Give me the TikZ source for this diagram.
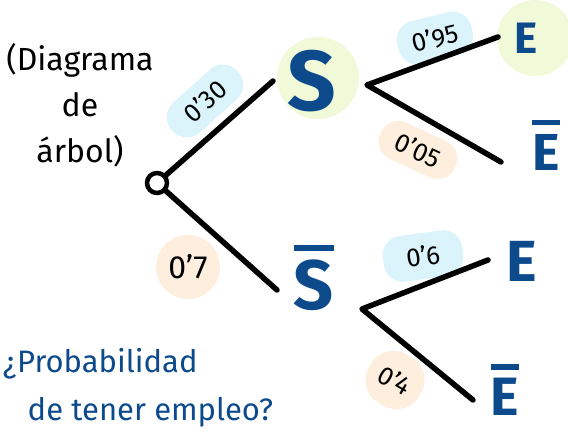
\documentclass[tikz,border=0pt]{standalone}
\usepackage{fontspec}
\setmainfont{Fira Sans}
\usepackage{tikz}
\usetikzlibrary{calc, backgrounds}

\definecolor{ink}{RGB}{12,74,140}
\definecolor{lime}{RGB}{240,249,216}
\definecolor{sky}{RGB}{219,244,251}
\definecolor{peach}{RGB}{253,238,221}

% letter with a bar on top (complement)
\newcommand{\nega}[1]{\vbox{\hrule height 5.5pt\kern 9pt\hbox{#1}}}

\begin{document}
\begin{tikzpicture}[
    x=1pt, y=-1pt,
    branch/.style={line width=5.5pt, line cap=round, line join=round},
    event/.style={text=ink, inner sep=0pt, font=\bfseries\fontsize{#1}{#1}\selectfont},
    event/.default=55,
    prob/.style={rounded corners=19pt, inner sep=0pt, minimum width=82pt,
      minimum height=40pt, font=\fontsize{26}{26}\selectfont},
    note/.style={align=center, font=\fontsize{32}{46}\selectfont}
]
\useasboundingbox (0,0) rectangle (568,441);

% tree
\node[draw, circle, line width=4.5pt, minimum size=20pt, inner sep=0pt] (root) at (157,183) {};
\node[event=85] (S) at (312,81) {S};
\node[event=70] (Sn) at (314,278) {\nega{S}};
\node[event=44] (E1) at (526,38) {E};
\node[event=52] (E1n) at (546,145) {\nega{E}};
\node[event=58] (E2) at (522,261) {E};
\node[event=54] (E2n) at (505,390) {\nega{E}};

\coordinate (Sfork) at (367,85);
\coordinate (Snfork) at (362,309);
\coordinate (toS) at (273,81);
\coordinate (toSn) at (277,290);
\coordinate (toE1) at (498,37);
\coordinate (toE1n) at (501,162);
\coordinate (toE2) at (488,260);
\coordinate (toE2n) at (473,400);

% probabilities
\node[prob, fill=sky, rotate=42, minimum width=88pt] (p30) at (205,101) {0'30};
\node[prob, fill=sky, rotate=14, minimum width=76pt, minimum height=44pt] (p95) at (435,38) {0'95};
\node[prob, fill=peach, rotate=-25] (p05) at (418,150) {0'05};
\node[prob, fill=peach, circle, minimum size=64pt, font=\fontsize{32}{32}\selectfont] (p7) at (188,267) {0'7};
\node[prob, fill=sky, rotate=8, minimum width=80pt, minimum height=46pt] (p6) at (423,256) {0'6};
\node[prob, fill=peach, rotate=-30, minimum width=58pt, minimum height=56pt, rounded corners=26pt] (p4) at (395,380) {0'4};

\draw[branch] (root) -- (toS);
\draw[branch] (root) -- (toSn);
\draw[branch] (toE1) -- (Sfork) -- (toE1n);
\draw[branch] (toE2) -- (Snfork) -- (toE2n);

\begin{scope}[on background layer]
\fill[lime] ($(S)+(6,-3)$) circle (41);
\fill[lime] ($(E1)+(9,0)$) circle (38);
\end{scope}

% notes
\node[note] (title) at (80,105) {(Diagrama\\de\\árbol)};
\node[note, text=ink, align=left, font=\fontsize{31}{48}\selectfont] (question) at (138,388) {¿Probabilidad\\\hspace*{0.8em}de tener empleo?};
\end{tikzpicture}
\end{document}
